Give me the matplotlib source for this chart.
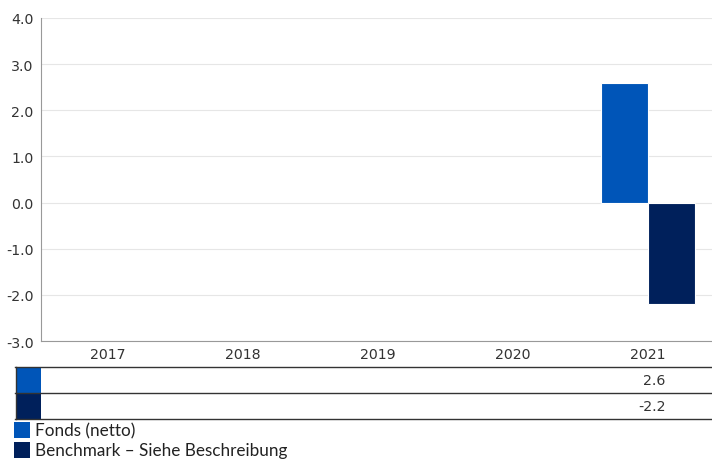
import matplotlib
matplotlib.use("Agg")
import matplotlib.pyplot as plt
import matplotlib.transforms as mtransforms
from matplotlib.patches import Rectangle
from matplotlib.lines import Line2D
import numpy as np

years = ["2017", "2018", "2019", "2020", "2021"]
fonds = [None, None, None, None, 2.6]
bench = [None, None, None, None, -2.2]
series_names = ["Fonds (netto)", "Benchmark – Siehe Beschreibung"]
colors = ["#0055B8", "#00205B"]
yticks = [-3.0, -2.0, -1.0, 0.0, 1.0, 2.0, 3.0, 4.0]

W, H = 712, 460
fig = plt.figure(figsize=(W / 100, H / 100), dpi=100)

def fx(px):
    return px / W

def fy(py):
    return 1 - py / H

TICK_FONT = dict(fontfamily="DejaVu Sans", fontsize=10.2, color="#333333")

ax_left, ax_right, ax_top, ax_bot = 40.5, 715.5, 19, 342
ax = fig.add_axes([fx(ax_left), fy(ax_bot), fx(ax_right - ax_left), (ax_bot - ax_top) / H])

x = np.arange(len(years))
bw = 0.35
fv = [np.nan if v is None else v for v in fonds]
bv = [np.nan if v is None else v for v in bench]
ax.bar(x - bw / 2, fv, bw, color=colors[0], edgecolor="white", linewidth=0.8, zorder=3)
ax.bar(x + bw / 2, bv, bw, color=colors[1], edgecolor="white", linewidth=0.8, zorder=3)

ax.set_xlim(-0.5, len(years) - 0.5)
ax.set_ylim(-3.0, 4.0)
ax.set_yticks(yticks)
ax.set_yticklabels([f"{v:.1f}" for v in yticks], **TICK_FONT)
ax.set_xticks([])
ax.grid(axis="y", color="#E6E6E6", linewidth=0.8, zorder=0)
for s in ["top", "right"]:
    ax.spines[s].set_visible(False)
for s in ["left", "bottom"]:
    ax.spines[s].set_color("#999999")
    ax.spines[s].set_linewidth(0.8)
ax.tick_params(axis="y", length=0, pad=5)

blend = mtransforms.blended_transform_factory(ax.transData, fig.transFigure)

# year labels under axis
for i, yr in enumerate(years):
    ax.text(i, fy(355), yr, transform=blend, ha="center", va="center", **TICK_FONT)

# table lines
line_color = "#333333"
for py in [367.5, 394, 420]:
    fig.add_artist(Line2D([fx(15), fx(712)], [fy(py), fy(py)], color=line_color, linewidth=1.0, transform=fig.transFigure))
fig.add_artist(Line2D([fx(15.5), fx(15.5)], [fy(367.5), fy(420)], color=line_color, linewidth=1.0, transform=fig.transFigure))

# swatches in table
fig.add_artist(Rectangle((fx(16), fy(393.5)), fx(25), (393.5 - 368) / H, facecolor=colors[0], edgecolor="none", transform=fig.transFigure))
fig.add_artist(Rectangle((fx(16), fy(419.5)), fx(25), (419.5 - 394.5) / H, facecolor=colors[1], edgecolor="none", transform=fig.transFigure))

# table values (right-aligned with the year label)
for i in range(len(years)):
    if fonds[i] is not None:
        ax.text(i + 0.13, fy(381), f"{fonds[i]:.1f}", transform=blend, ha="right", va="center", **TICK_FONT)
    if bench[i] is not None:
        ax.text(i + 0.13, fy(407), f"{bench[i]:.1f}", transform=blend, ha="right", va="center", **TICK_FONT)

# legend
for k, (name, c) in enumerate(zip(series_names, colors)):
    top = 422.5 + k * 20
    fig.add_artist(Rectangle((fx(14), fy(top + 16)), fx(16), 16 / H, facecolor=c, edgecolor="none", transform=fig.transFigure))
    fig.text(fx(35), fy(top + 9), name, ha="left", va="center", fontfamily="Lato", fontsize=12.3, color="#222222")

fig.savefig("out.png", dpi=100)
